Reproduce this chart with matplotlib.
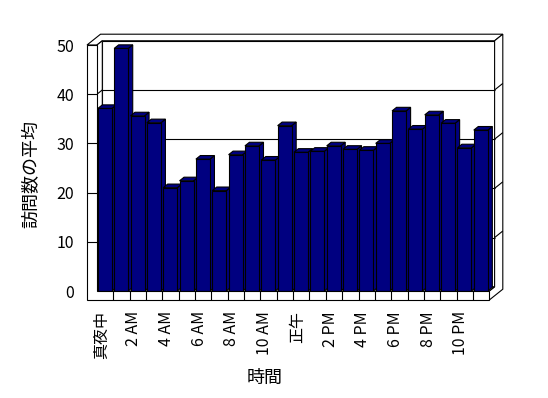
import matplotlib
matplotlib.use("Agg")
import matplotlib.pyplot as plt
from matplotlib.patches import Polygon
import matplotlib.transforms as mtransforms

# --- data ---
hours = list(range(24))
visits = [37.1, 49.3, 35.6, 34.2, 21.0, 22.4, 26.8, 20.4, 27.7, 29.5, 26.6, 33.6,
          28.2, 28.4, 29.5, 28.8, 28.6, 30.0, 36.6, 32.9, 35.8, 34.1, 29.1, 32.7]
tick_labels = ["真夜中", "2 AM", "4 AM", "6 AM", "8 AM", "10 AM",
               "正午", "2 PM", "4 PM", "6 PM", "8 PM", "10 PM"]
y_ticks = [0, 10, 20, 30, 40, 50]

plt.rcParams["font.family"] = ["Noto Sans CJK JP", "DejaVu Sans"]
navy = "#000080"
lw = 0.8

fig = plt.figure(figsize=(5.48, 3.98), dpi=100)
ax = fig.add_axes([97 / 548, 107 / 398, 392.3 / 548, 246 / 398])
ax.set_xlim(0, 24)
ax.set_ylim(0, 50)
for s in ax.spines.values():
    s.set_visible(False)

# pixel -> data helpers for the fake 3D look
KX = 24 / 392.3
KY = 50 / 246


def P(x, y, d=0.0):
    # point at depth d (pixels) behind the front plane
    return (x + d * KX, y + 0.8 * d * KY)


D_BAR, D_WALL, D_BACK = 4.5, 5.3, 13.5
TS = 10 * KX   # side wall thickness
TF = 9 * KY    # floor thickness
n = len(hours)
top = y_ticks[-1]


def poly(pts, z, fc="white"):
    ax.add_patch(Polygon(pts, closed=True, fc=fc, ec="black", lw=lw,
                         zorder=z, clip_on=False, joinstyle="miter"))


def line(p1, p2, z):
    ax.plot([p1[0], p2[0]], [p1[1], p2[1]], color="black", lw=lw,
            zorder=z, clip_on=False, solid_capstyle="butt")


# back wall front face + gridlines
poly([P(0, 0, D_WALL), P(n, 0, D_WALL), P(n, top, D_WALL), P(0, top, D_WALL)], 1)
for v in y_ticks[1:-1]:
    line(P(0, v, D_WALL), P(n, v, D_WALL), 1.1)
# top faces of side + back wall
poly([P(-TS, top, 0), P(0, top, 0), P(0, top, D_WALL), P(n, top, D_WALL),
      P(n, top, D_BACK), P(-TS, top, D_BACK)], 1)
# right side face of back wall + floor
poly([P(n, 0, 0), P(n, -TF, 0), P(n, -TF, D_BACK), P(n, top, D_BACK),
      P(n, top, D_WALL), P(n, 0, D_WALL)], 1)
for v in y_ticks[1:-1]:
    line(P(n, v, D_WALL), P(n, v, D_BACK), 1.1)
# floor top + side wall inner face
poly([P(0, 0, 0), P(n, 0, 0), P(n, 0, D_WALL), P(0, 0, D_WALL)], 1)
poly([P(0, 0, 0), P(0, top, 0), P(0, top, D_WALL), P(0, 0, D_WALL)], 1)
for v in y_ticks[1:-1]:
    line(P(0, v, 0), P(0, v, D_WALL), 1.1)

# bars, left to right so the next front face hides the previous side
w = 0.86
x0 = [h + 0.05 for h in hours]
for i, (x, v) in enumerate(zip(x0, visits)):
    z = 2 + i * 0.01
    ax.bar(x, v, width=w, align="edge", color=navy, edgecolor="black",
           linewidth=lw, zorder=z + 0.005)
    xr = x + w
    poly([P(xr, 0), P(xr, v), P(xr, v, D_BAR), P(xr, 0, D_BAR)], z, navy)
    poly([P(x, v), P(xr, v), P(xr, v, D_BAR), P(x, v, D_BAR)], z, navy)

# side wall front face + floor front face
poly([P(-TS, -TF), P(n, -TF), P(n, 0), P(0, 0), P(0, top), P(-TS, top)], 5)
for v in y_ticks[1:-1]:
    line(P(-TS, v), P(0, v), 5.1)
for k in range(1, n):
    line(P(k, -TF), P(k, 0), 5.1)

# ticks and labels
ax.set_yticks(y_ticks)
ax.set_yticklabels([str(t) for t in y_ticks], fontsize=11.5)
ax.set_xticks([h + 0.5 for h in hours[::2]])
ax.set_xticklabels(tick_labels, rotation=90, fontsize=11.5)
ax.tick_params(axis="y", length=0, pad=16.5)
ax.tick_params(axis="x", length=0, pad=14.5)
shift = mtransforms.ScaledTranslation(-4 / 100, 0, fig.dpi_scale_trans)
for lab in ax.get_xticklabels():
    lab.set_transform(lab.get_transform() + shift)

fig.text(31 / 548, 1 - 174 / 398, "訪問数の平均", rotation=90, fontsize=13,
         ha="center", va="center")
fig.text(265 / 548, 1 - 378 / 398, "時間", fontsize=13, ha="center", va="center")

fig.savefig("out.png", dpi=100, facecolor="white")
